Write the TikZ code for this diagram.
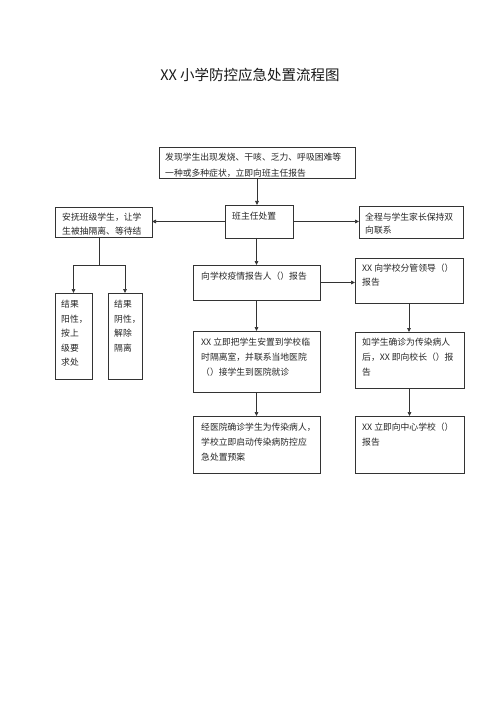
\documentclass[tikz,border=0pt]{standalone}
\usepackage{fontspec}
\setmainfont{Noto Sans CJK SC}
\usetikzlibrary{arrows.meta}
\begin{document}
\begin{tikzpicture}[x=1pt,y=-1pt,
  box/.style={draw=black!80, line width=0.7pt, anchor=north west, inner sep=0pt, outer sep=0pt},
  txt/.style={anchor=north west, inner sep=0pt, align=left, text=black!85, font=\fontsize{8.8}{#1}\selectfont},
  txt/.default=15,
  conn/.style={draw=black!80, line width=0.7pt},
  arr/.style={conn, -{Triangle[length=4pt,width=3.6pt]}}]
\useasboundingbox[fill=white] (0,0) rectangle (500,708);

\node[font=\fontsize{14.5}{17}\selectfont, text=black!90] (title) at (250,75) {XX 小学防控应急处置流程图};

% boxes
\node[box, minimum width=196pt, minimum height=31pt] (top) at (159,147) {};
\node[box, minimum width=68pt, minimum height=33pt] (bz) at (225,205) {};
\node[box, minimum width=97pt, minimum height=30pt] (lb) at (55,207) {};
\node[box, minimum width=104pt, minimum height=32pt] (rb) at (359,206) {};
\node[box, minimum width=127pt, minimum height=35pt] (m1) at (193,265) {};
\node[box, minimum width=127pt, minimum height=61pt] (m2) at (193,331) {};
\node[box, minimum width=127pt, minimum height=57pt] (m3) at (193,416) {};
\node[box, minimum width=108pt, minimum height=45pt] (r1) at (355,258) {};
\node[box, minimum width=109pt, minimum height=56pt] (r2) at (355,332) {};
\node[box, minimum width=109pt, minimum height=57pt] (r3) at (355,416) {};
\node[box, minimum width=37pt, minimum height=86pt] (s1) at (55,293) {};
\node[box, minimum width=34pt, minimum height=86pt] (s2) at (108,293) {};

% texts
\begin{scope}
\clip (top.south west) rectangle (top.north east);
\node[txt=15.5] (ttop) at (165,153) {发现学生出现发烧、干咳、乏力、呼吸困难等\\一种或多种症状，立即向班主任报告};
\end{scope}
\node[txt] (tbz) at (232,212) {班主任处置};
\begin{scope}
\clip (lb.south west) rectangle (lb.north east);
\node[txt=14] (tlb) at (62,213) {安抚班级学生，让学\\生被抽隔离、等待结};
\end{scope}
\node[txt=13] (trb) at (365,213) {全程与学生家长保持双\\向联系};
\node[txt] (tm1) at (201,272) {向学校疫情报告人（）报告};
\node[txt] (tm2) at (201,338) {XX 立即把学生安置到学校临\\时隔离室，并联系当地医院\\（）接学生到医院就诊};
\node[txt] (tm3) at (201,423) {经医院确诊学生为传染病人，\\学校立即启动传染病防控应\\急处置预案};
\node[txt=14] (tr1) at (362,264) {XX 向学校分管领导（）\\报告};
\node[txt] (tr2) at (362,338) {如学生确诊为传染病人\\后，XX 即向校长（）报\\告};
\node[txt] (tr3) at (362,423) {XX 立即向中心学校（）\\报告};
\node[txt=14.5] (ts1) at (61,300) {结果\\阳性，\\按上\\级要\\求处};
\node[txt=14.5] (ts2) at (114,300) {结果\\阴性，\\解除\\隔离};

% connectors
\draw[arr] (top.south) -- (top.south |- bz.north);
\draw[arr] (bz.west) -- (bz.west -| lb.east);
\draw[arr] (bz.east) -- (bz.east -| rb.west);
\draw[arr] (m1.north |- bz.south) -- (m1.north);
\draw[arr] (m1.south) -- (m2.north);
\draw[arr] (m2.south) -- (m3.north);
\draw[arr] (m1.east) -- (m1.east -| r1.west);
\draw[arr] (r1.south) -- (r1.south |- r2.north);
\draw[arr] (r2.south) -- (r3.north);
\path (lb.south) ++(-4,28) coordinate (j);
\draw[conn] (lb.south -| j) -- (j);
\draw[conn] (j -| s1.north) -- (j -| s2.north);
\draw[arr] (j -| s1.north) -- (s1.north);
\draw[arr] (j -| s2.north) -- (s2.north);
\end{tikzpicture}
\end{document}
